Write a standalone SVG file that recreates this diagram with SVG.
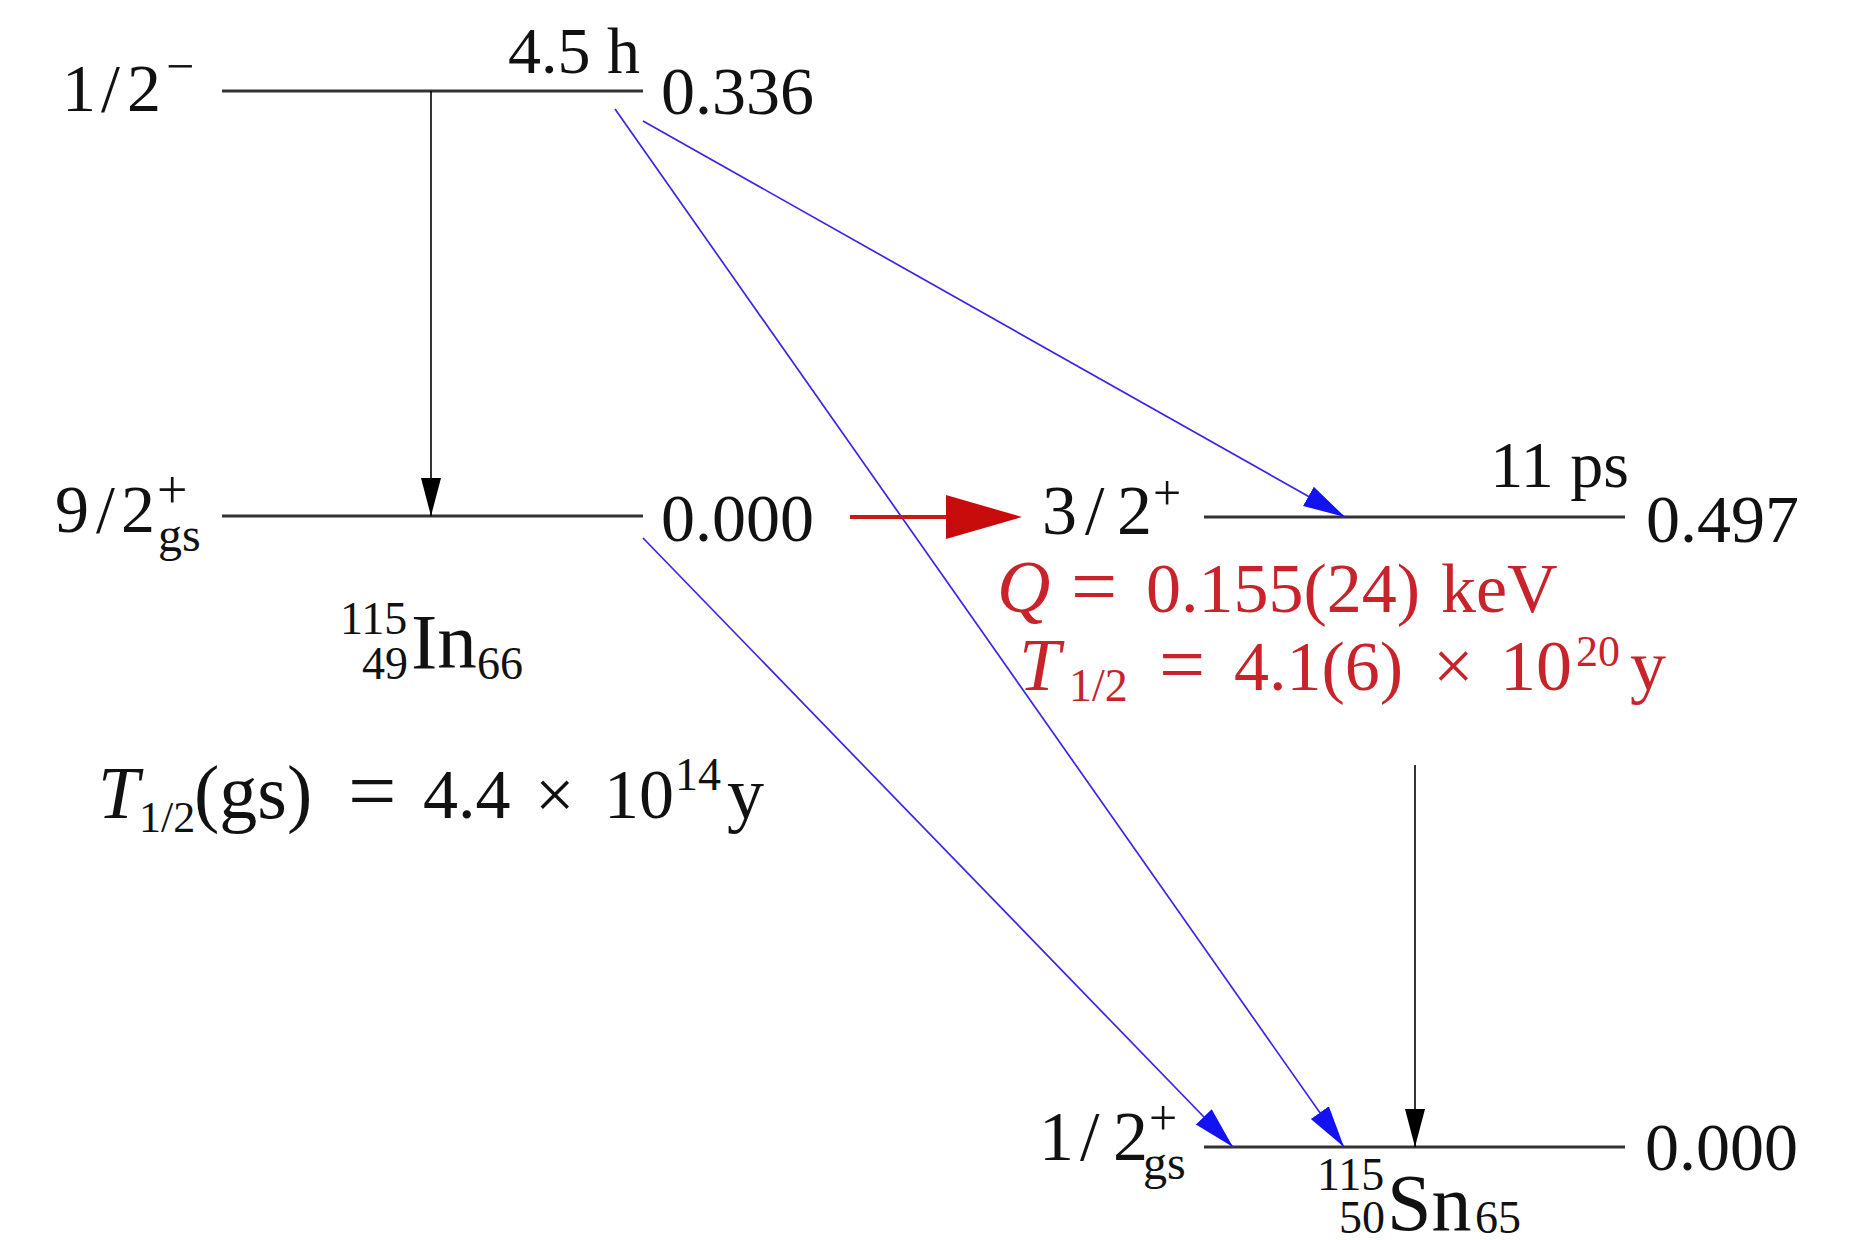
<svg xmlns="http://www.w3.org/2000/svg" width="1860" height="1240" viewBox="0 0 1860 1240">
<style>
text{font-family:"Liberation Serif","Times New Roman",serif;fill:#111}
.lvl{stroke:#333;stroke-width:3;fill:none}
.num{font-size:68px}
.it{font-style:italic}
.red{fill:#c8232a}
.blue{stroke:#3a26e6;stroke-width:1.7;fill:none}
.blk{stroke:#000;stroke-width:1.6;fill:none}
</style>
<defs>
<marker id="hb" markerUnits="userSpaceOnUse" markerWidth="44" markerHeight="24" refX="42" refY="11" orient="auto"><path d="M0,0 L42,11 L0,22 z" fill="#1212f2"/></marker>
<marker id="hk" markerUnits="userSpaceOnUse" markerWidth="40" markerHeight="22" refX="38" refY="10" orient="auto"><path d="M0,0 L38,10 L0,20 z" fill="#000"/></marker>
<marker id="hr" markerUnits="userSpaceOnUse" markerWidth="80" markerHeight="46" refX="66" refY="22" orient="auto"><path d="M0,0 L76,22 L0,44 z" fill="#c80c0c"/></marker>
</defs>

<g id="in-half-minus">
<line class="lvl" x1="222" y1="91" x2="643" y2="91" stroke="#555"/>
<text style="font-size:68px"><tspan x="62" y="111">1</tspan><tspan x="101" y="111">/</tspan><tspan x="127" y="111">2</tspan><tspan x="166" y="83" style="font-size:50px">−</tspan></text>
<text x="640" y="73" text-anchor="end" style="font-size:66px">4.5 h</text>
<text class="num" x="661" y="114">0.336</text>
</g>

<g id="in-gs">
<line class="lvl" x1="222" y1="516" x2="643" y2="516"/>
<text style="font-size:68px"><tspan x="55" y="532">9</tspan><tspan x="96" y="532">/</tspan><tspan x="121" y="532">2</tspan><tspan x="157" y="508" style="font-size:54px">+</tspan><tspan x="158" y="551" style="font-size:48px">gs</tspan></text>
<text class="num" x="661" y="541">0.000</text>
<text><tspan x="340" y="634" style="font-size:46px">115</tspan><tspan x="362" y="679" style="font-size:46px">49</tspan><tspan x="411" y="668" style="font-size:79px">In</tspan><tspan x="477" y="679" style="font-size:46px">66</tspan></text>
<text><tspan class="it" x="98" y="818" style="font-size:74px">T</tspan><tspan x="139" y="832" style="font-size:44px">1/2</tspan><tspan x="194" y="818" style="font-size:76px">(gs)</tspan><tspan x="348" y="820" style="font-size:86px">=</tspan><tspan x="423" y="818" style="font-size:70px">4.4</tspan><tspan x="535" y="818" style="font-size:70px">×</tspan><tspan x="604" y="818" style="font-size:70px">10</tspan><tspan x="675" y="790" style="font-size:46px">14</tspan><tspan x="727" y="818" style="font-size:74px">y</tspan></text>
</g>

<g id="sn-three-half">
<line class="lvl" x1="1204" y1="517" x2="1625" y2="517"/>
<text style="font-size:70px"><tspan x="1042" y="534">3</tspan><tspan x="1085" y="534">/</tspan><tspan x="1117" y="534">2</tspan><tspan x="1153" y="510" style="font-size:50px">+</tspan></text>
<text x="1629" y="487" text-anchor="end" style="font-size:66px">11 ps</text>
<text class="num" x="1646" y="542">0.497</text>
<text class="red"><tspan class="it red" x="997" y="612" style="font-size:74px">Q</tspan><tspan class="red" x="1071" y="614" style="font-size:82px">=</tspan><tspan class="red" x="1146" y="612" style="font-size:70px">0.155(24)</tspan><tspan class="red" x="1441" y="612" style="font-size:70px">keV</tspan></text>
<text class="red"><tspan class="it red" x="1019" y="690" style="font-size:74px">T</tspan><tspan class="red" x="1069" y="701" style="font-size:46px">1/2</tspan><tspan class="red" x="1159" y="692" style="font-size:82px">=</tspan><tspan class="red" x="1234" y="690" style="font-size:70px">4.1(6)</tspan><tspan class="red" x="1433" y="690" style="font-size:72px">×</tspan><tspan class="red" x="1500" y="690" style="font-size:72px">10</tspan><tspan class="red" x="1576" y="666" style="font-size:44px">20</tspan><tspan class="red" x="1630" y="690" style="font-size:72px">y</tspan></text>
</g>

<g id="sn-gs">
<line class="lvl" x1="1204" y1="1147" x2="1625" y2="1147"/>
<text style="font-size:70px"><tspan x="1039" y="1160">1</tspan><tspan x="1080" y="1160">/</tspan><tspan x="1113" y="1160">2</tspan><tspan x="1149" y="1135" style="font-size:50px">+</tspan><tspan x="1143" y="1179" style="font-size:48px">gs</tspan></text>
<text class="num" x="1645" y="1170">0.000</text>
<text><tspan x="1317" y="1190" style="font-size:46px">115</tspan><tspan x="1339" y="1233" style="font-size:46px">50</tspan><tspan x="1387" y="1230" style="font-size:80px">Sn</tspan><tspan x="1475" y="1233" style="font-size:46px">65</tspan></text>
</g>

<g id="connectors">
<line class="blk" x1="431" y1="91" x2="431" y2="516" marker-end="url(#hk)"/>
<line class="blk" x1="1415" y1="765" x2="1415" y2="1147" marker-end="url(#hk)"/>
<line class="blue" x1="643" y1="121" x2="1345" y2="517" marker-end="url(#hb)"/>
<line class="blue" x1="615" y1="109" x2="1344" y2="1147" marker-end="url(#hb)"/>
<line class="blue" x1="643" y1="538" x2="1233" y2="1147" marker-end="url(#hb)"/>
<line x1="850" y1="517" x2="1012" y2="517" stroke="#c41a1a" stroke-width="4" marker-end="url(#hr)"/>
</g>
</svg>
